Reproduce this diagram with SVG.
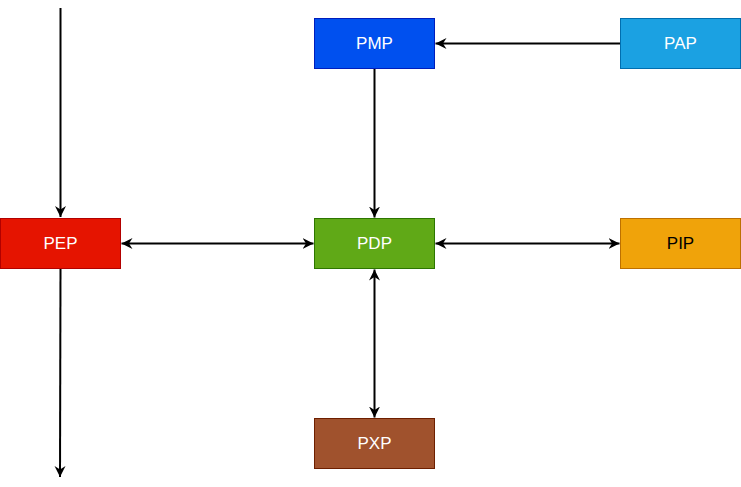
<svg xmlns="http://www.w3.org/2000/svg" width="741" height="487" viewBox="0 0 741 487">
<style>
.t{font-family:"Liberation Sans",Arial,sans-serif;font-size:17px;text-anchor:middle;dominant-baseline:central}
.w{fill:#ffffff}
.k{fill:#000000}
.c{stroke:#000;stroke-width:2;fill:none}
</style>
<defs>
<marker id="a" markerWidth="14" markerHeight="14" refX="11" refY="7" orient="auto-start-reverse" markerUnits="userSpaceOnUse" viewBox="0 0 14 14">
<path d="M0,1.5 L11,7 L0,12.5 L3.5,7 Z" fill="#000"/>
</marker>
</defs>
<rect width="741" height="487" fill="#fff"/>
<g id="connectors">
<path class="c" d="M60.5,8 L60.5,217" marker-end="url(#a)"/>
<path class="c" d="M60.5,268.5 L60,477" marker-end="url(#a)"/>
<path class="c" d="M620.5,43.5 L435.5,43.5" marker-end="url(#a)"/>
<path class="c" d="M374.5,68.5 L374.5,217.5" marker-end="url(#a)"/>
<path class="c" d="M121.5,243.5 L313.5,243.5" marker-start="url(#a)" marker-end="url(#a)"/>
<path class="c" d="M435.5,243.5 L619.5,243.5" marker-start="url(#a)" marker-end="url(#a)"/>
<path class="c" d="M374.5,269.5 L374.5,417.5" marker-start="url(#a)" marker-end="url(#a)"/>
</g>
<g id="PEP"><rect x="0.5" y="218.5" width="120" height="50" fill="#e51400" stroke="#B20000"/><text class="t w" x="60.5" y="243.5">PEP</text></g>
<g id="PMP"><rect x="314.5" y="18.5" width="120" height="50" fill="#0050ef" stroke="#001DBC"/><text class="t w" x="374.5" y="43.5">PMP</text></g>
<g id="PAP"><rect x="620.5" y="18.5" width="120" height="50" fill="#1ba1e2" stroke="#006EAF"/><text class="t w" x="680.5" y="43.5">PAP</text></g>
<g id="PDP"><rect x="314.5" y="218.5" width="120" height="50" fill="#60a917" stroke="#2D7600"/><text class="t w" x="374.5" y="243.5">PDP</text></g>
<g id="PIP"><rect x="620.5" y="218.5" width="120" height="50" fill="#f0a30a" stroke="#BD7000"/><text class="t k" x="680.5" y="243.5">PIP</text></g>
<g id="PXP"><rect x="314.5" y="418.5" width="120" height="50" fill="#a0522d" stroke="#6D1F00"/><text class="t w" x="374.5" y="443.5">PXP</text></g>
</svg>
